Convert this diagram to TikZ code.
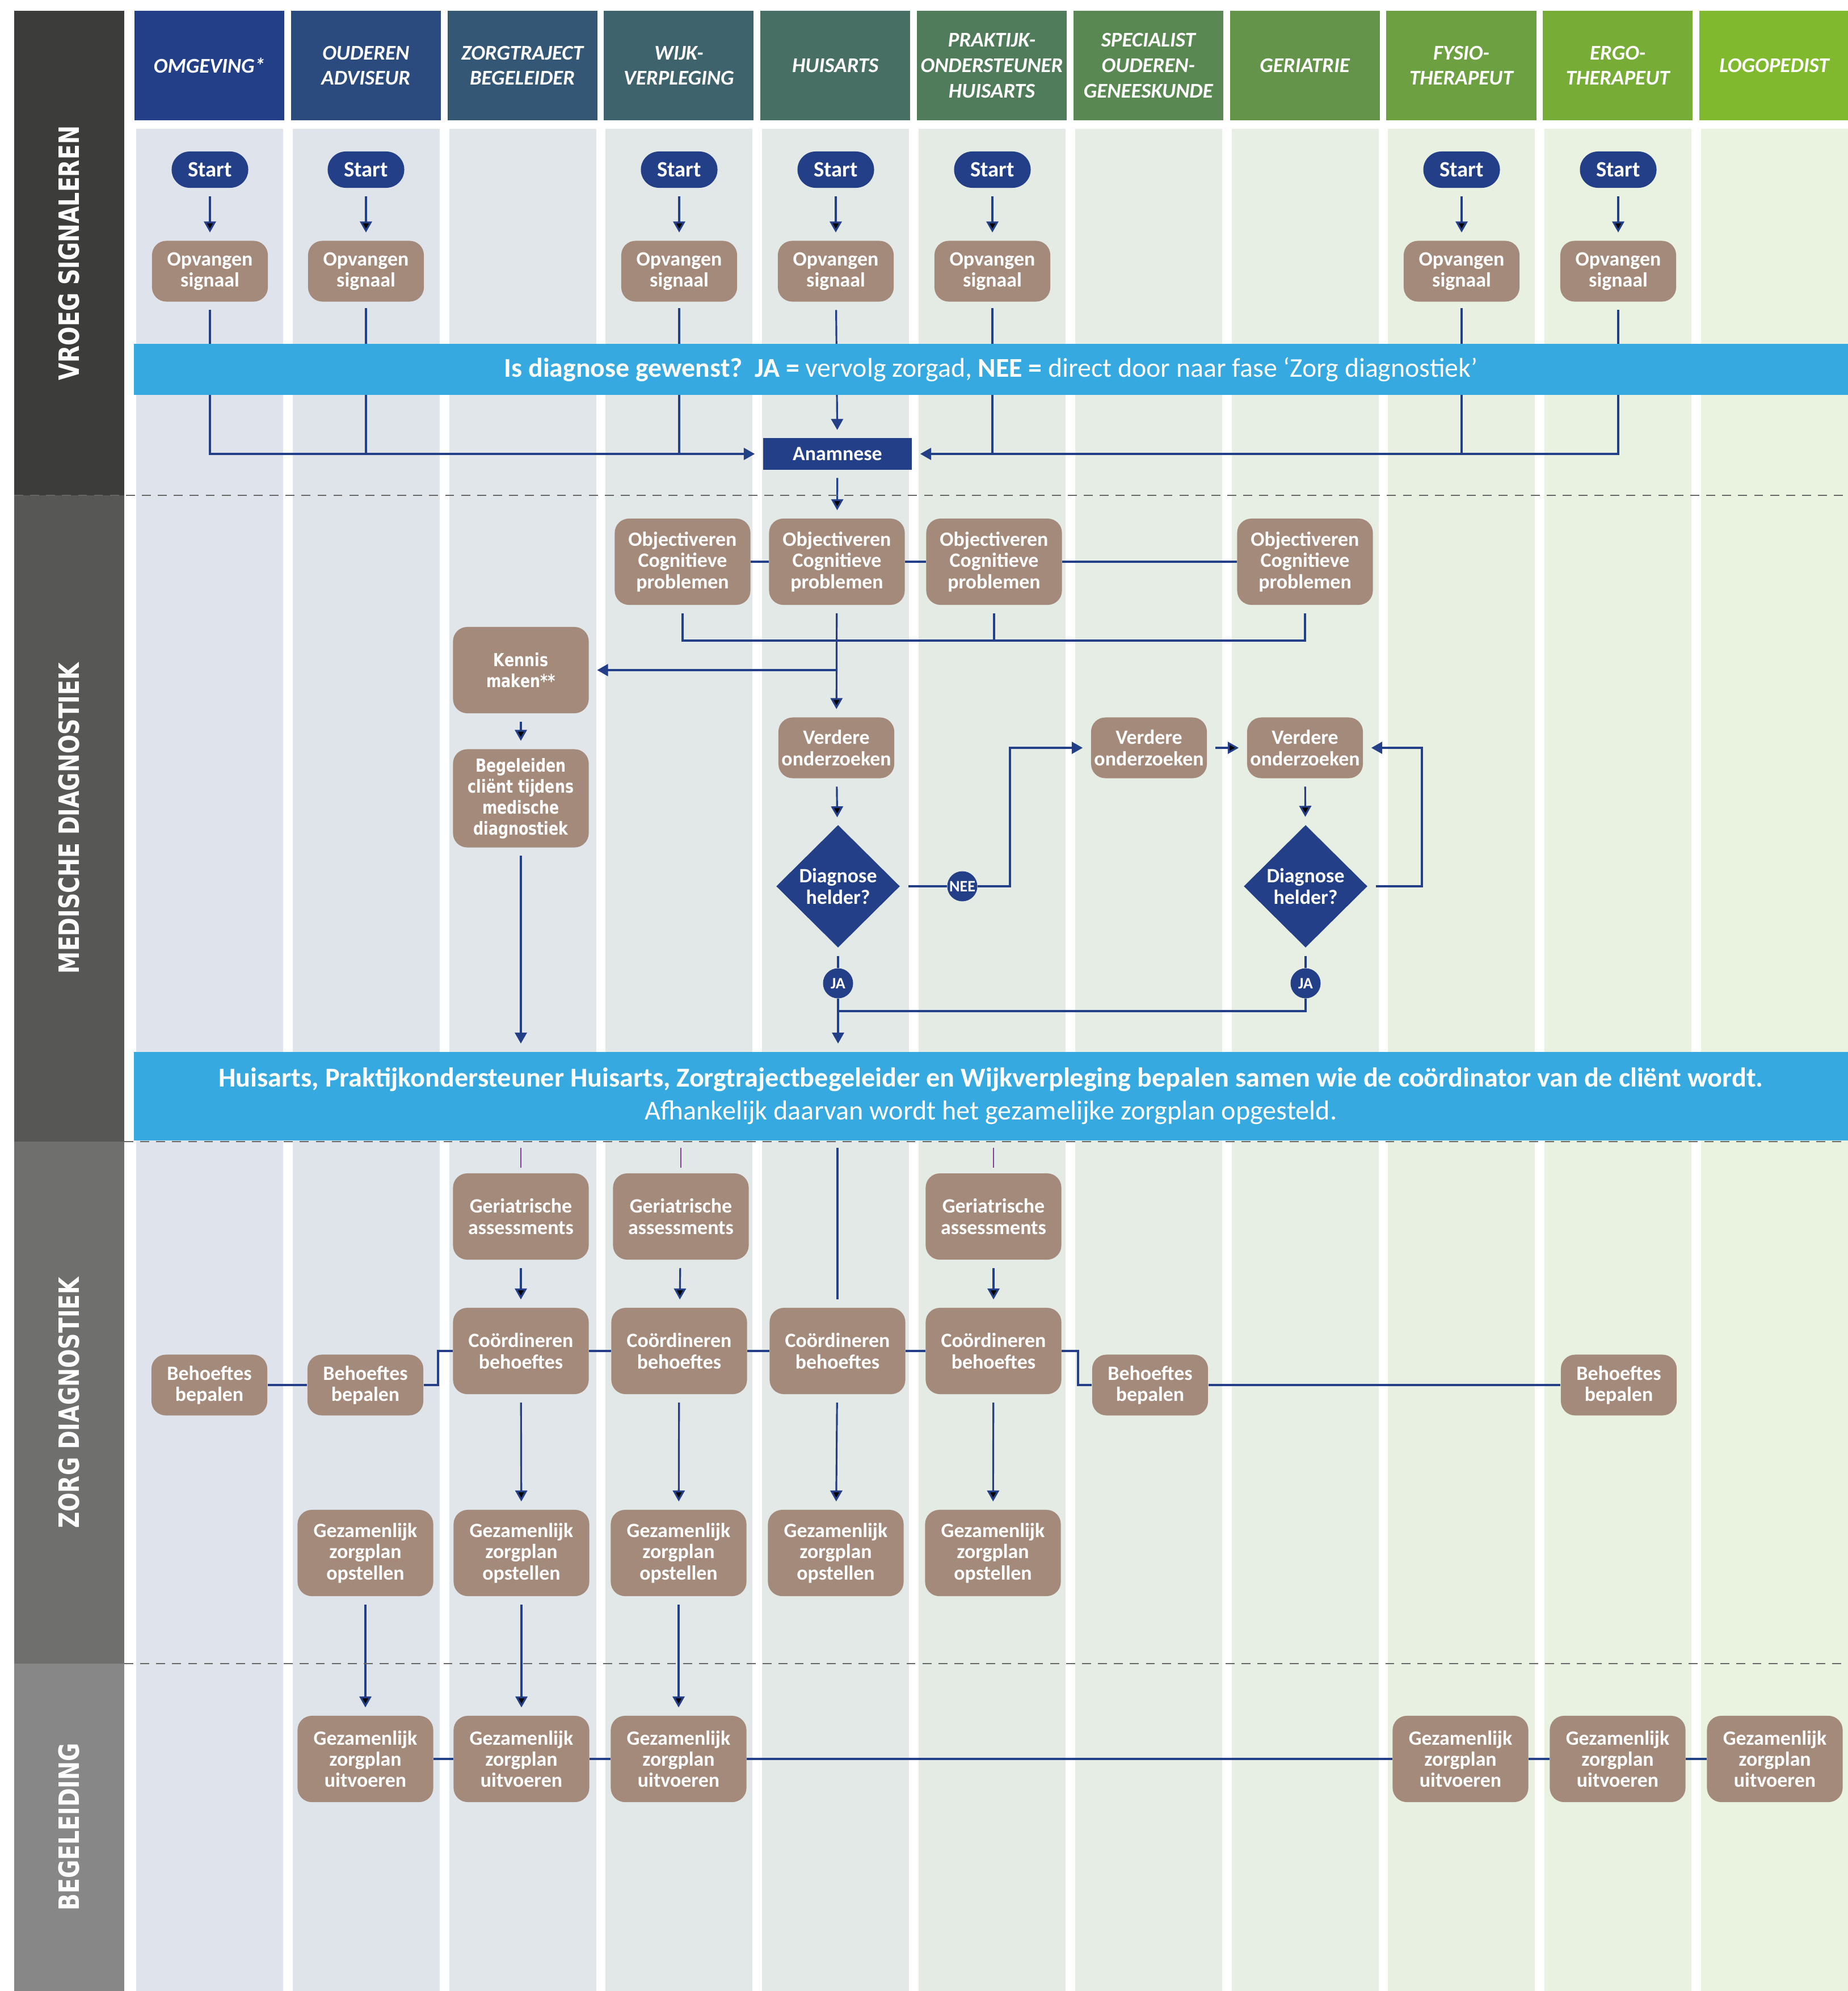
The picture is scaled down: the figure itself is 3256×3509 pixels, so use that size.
\documentclass[tikz,border=0pt]{standalone}
\usepackage{fontspec}
\setmainfont{Carlito}
\newfontfamily\widefont[FakeStretch=0.8]{DejaVu Sans}
\usetikzlibrary{shapes.geometric,arrows.meta}
\definecolor{navy}{HTML}{233F87}
\definecolor{taupe}{HTML}{A48A7A}
\definecolor{barblue}{HTML}{36A9E0}
\definecolor{headfirst}{HTML}{223F88}
\definecolor{headlast}{HTML}{80B82E}
\definecolor{lanefirst}{HTML}{DEE3EC}
\definecolor{lanelast}{HTML}{EAF3DF}
\definecolor{phaseA}{HTML}{3C3C3B}
\definecolor{phaseB}{HTML}{575756}
\definecolor{phaseC}{HTML}{6F6F6E}
\definecolor{phaseD}{HTML}{878787}
\definecolor{stub}{HTML}{7D3F98}
\begin{document}
\begin{tikzpicture}[x=0.01cm, y=-0.01cm,
		every node/.style = {text=white, inner sep=0pt},
		head/.style = {minimum width=2.64cm, minimum height=1.93cm, align=center, font=\fontsize{10.5}{12.7}\selectfont\bfseries\itshape},
		phase/.style = {rotate=90, font=\widefont\bfseries\fontsize{14}{16}\selectfont},
		startpill/.style = {fill=navy, rounded corners=0.32cm, minimum width=1.35cm, minimum height=0.64cm, font=\fontsize{11}{12}\selectfont\bfseries},
		main/.style = {fill=taupe, rounded corners=0.25cm, minimum width=2.04cm, minimum height=1.07cm, align=center, font=\fontsize{10.2}{10.6}\selectfont\bfseries},
		mainbig/.style = {main, minimum width=2.39cm, minimum height=1.52cm},
		wide/.style = {mainbig, font=\widefont\bfseries\fontsize{9}{10.5}\selectfont},
		question/.style = {diamond, fill=navy, minimum width=2.18cm, minimum height=2.16cm, inner sep=-5pt, align=center, font=\fontsize{10.2}{10.6}\selectfont\bfseries},
		answer/.style = {circle, fill=navy, minimum size=0.53cm, font=\fontsize{8}{9}\selectfont\bfseries},
		bar/.style = {fill=barblue, minimum width=30.19cm, align=center},
		wire/.style = {draw=navy, line width=0.9pt},
		flow/.style = {wire, -{Triangle[length=5.5pt, width=6pt]}, shorten <=4pt, shorten >=4pt},
		stubline/.style = {draw=stub, line width=0.8pt, shorten <=3.4pt, shorten >=2.6pt},
		dashline/.style = {draw=black!60, line width=0.8pt, dash pattern=on 4.5pt off 3.5pt}]
	\useasboundingbox (0,0) rectangle (3256,3509);

	\fill[phaseA] (25,19) rectangle (219,873);
	\fill[phaseB] (25,873) rectangle (219,2012);
	\fill[phaseC] (25,2012) rectangle (219,2932);
	\fill[phaseD] (25,2932) rectangle (219,3509);
	\node[phase] (ph1) at (122,446) {VROEG SIGNALEREN};
	\node[phase] (ph2) at (122,1442) {MEDISCHE DIAGNOSTIEK};
	\node[phase] (ph3) at (122,2472) {ZORG DIAGNOSTIEK};
	\node[phase] (ph4) at (122,3220) {BEGELEIDING};

	\foreach \i/\txt in {1/{OMGEVING*}, 2/{OUDEREN\\ADVISEUR}, 3/{ZORGTRAJECT\\BEGELEIDER}, 4/{WIJK-\\VERPLEGING}, 5/{HUISARTS}, 6/{PRAKTIJK-\\ONDERSTEUNER\\HUISARTS}, 7/{SPECIALIST\\OUDEREN-\\GENEESKUNDE}, 8/{GERIATRIE}, 9/{FYSIO-\\THERAPEUT}, 10/{ERGO-\\THERAPEUT}, 11/{LOGOPEDIST}} {
		\pgfmathtruncatemacro\pct{(\i-1)*10}
		\fill[lanelast!\pct!lanefirst] ({240+275.8*(\i-1)},227) rectangle ++(259,3300);
		\node[head, fill=headlast!\pct!headfirst] (h\i) at ({369+275.8*(\i-1)},115.5) {\txt};
	}

	\foreach \c/\x in {1/370, 2/645, 4/1197, 5/1473, 6/1749, 9/2576, 10/2852} {
		\node[startpill] (st\c) at (\x,299) {Start};
		\node[main] (op\c) at (\x,478) {Opvangen\\signaal};
		\path[flow] (st\c) edge (op\c);
	}

	\node[fill=navy, minimum width=2.62cm, minimum height=0.55cm, font=\fontsize{10.2}{12}\selectfont\bfseries] (anam) at (1476,800) {Anamnese};
	\node[mainbig] (ob4) at (1203,990) {Objectiveren\\Cognitieve\\problemen};
	\node[mainbig] (ob5) at (1475,990) {Objectiveren\\Cognitieve\\problemen};
	\node[mainbig] (ob6) at (1752,990) {Objectiveren\\Cognitieve\\problemen};
	\node[mainbig] (ob8) at (2300,990) {Objectiveren\\Cognitieve\\problemen};
	\node[wide] (kennis) at (918,1181) {Kennis\\maken**};
	\node[wide, minimum height=1.73cm] (begel) at (918,1407) {Begeleiden\\cliënt tijdens\\medische\\diagnostiek};
	\node[main] (vo5) at (1474,1318) {Verdere\\onderzoeken};
	\node[main] (vo7) at (2025,1318) {Verdere\\onderzoeken};
	\node[main] (vo8) at (2300,1318) {Verdere\\onderzoeken};
	\node[question] (dh5) at (1477,1562) {Diagnose\\helder?};
	\node[question] (dh8) at (2301,1562) {Diagnose\\helder?};
	\node[answer] (nee) at (1696,1562) {NEE};
	\node[answer] (ja5) at (1477,1733) {JA};
	\node[answer] (ja8) at (2301,1733) {JA};

	\node[bar, minimum height=1.56cm, font=\fontsize{13.7}{16.5}\selectfont] (overleg) at (1746.5,1932) {{\bfseries Huisarts, Praktijkondersteuner Huisarts, Zorgtrajectbegeleider en Wijkverpleging bepalen samen wie de coördinator van de cliënt wordt.}\\Afhankelijk daarvan wordt het gezamelijke zorgplan opgesteld.};

	\node[mainbig] (ga3) at (918,2144) {Geriatrische\\assessments};
	\node[mainbig] (ga4) at (1200,2144) {Geriatrische\\assessments};
	\node[mainbig] (ga6) at (1751,2144) {Geriatrische\\assessments};
	\node[mainbig] (cb3) at (918,2381) {Coördineren\\behoeftes};
	\node[mainbig] (cb4) at (1197,2381) {Coördineren\\behoeftes};
	\node[mainbig] (cb5) at (1476,2381) {Coördineren\\behoeftes};
	\node[mainbig] (cb6) at (1751,2381) {Coördineren\\behoeftes};
	\node[main] (bb1) at (369,2441) {Behoeftes\\bepalen};
	\node[main] (bb2) at (644,2441) {Behoeftes\\bepalen};
	\node[main] (bb7) at (2027,2441) {Behoeftes\\bepalen};
	\node[main] (bb10) at (2853,2441) {Behoeftes\\bepalen};
	\node[mainbig] (zo2) at (644,2737) {Gezamenlijk\\zorgplan\\opstellen};
	\node[mainbig] (zo3) at (919,2737) {Gezamenlijk\\zorgplan\\opstellen};
	\node[mainbig] (zo4) at (1196,2737) {Gezamenlijk\\zorgplan\\opstellen};
	\node[mainbig] (zo5) at (1473,2737) {Gezamenlijk\\zorgplan\\opstellen};
	\node[mainbig] (zo6) at (1750,2737) {Gezamenlijk\\zorgplan\\opstellen};
	\node[mainbig] (zu2) at (644,3100) {Gezamenlijk\\zorgplan\\uitvoeren};
	\node[mainbig] (zu3) at (919,3100) {Gezamenlijk\\zorgplan\\uitvoeren};
	\node[mainbig] (zu4) at (1196,3100) {Gezamenlijk\\zorgplan\\uitvoeren};
	\node[mainbig] (zu9) at (2574,3100) {Gezamenlijk\\zorgplan\\uitvoeren};
	\node[mainbig] (zu10) at (2851,3100) {Gezamenlijk\\zorgplan\\uitvoeren};
	\node[mainbig] (zu11) at (3128,3100) {Gezamenlijk\\zorgplan\\uitvoeren};

	\coordinate (obmerge) at (1475,1129);
	\coordinate (neebend) at (1780,1562);
	\coordinate (lusbend) at (2506,1562);
	\coordinate (jamerge) at (1477,1782);
	\coordinate (kinkl) at (772,2381);
	\coordinate (kinkr) at (1900,2441);

	\draw[flow] (op1) |- (anam);
	\draw[flow] (op10) |- (anam);
	\draw[flow] (op5) -- (anam);
	\draw[wire, shorten <=3pt] (op2) -- (op2 |- anam);
	\draw[wire, shorten <=3pt] (op4) -- (op4 |- anam);
	\draw[wire, shorten <=3pt] (op6) -- (op6 |- anam);
	\draw[wire, shorten <=3pt] (op9) -- (op9 |- anam);
	\path[flow] (anam) edge (ob5);
	\path[wire] (ob4) edge (ob5) (ob5) edge (ob6) (ob6) edge (ob8);
	\draw[wire, shorten <=4pt] (ob4) |- (obmerge);
	\draw[wire, shorten <=4pt] (ob8) |- (obmerge);
	\draw[wire, shorten <=4pt] (ob6) -- (ob6 |- obmerge);
	\path[flow] (ob5) edge (vo5);
	\draw[flow, shorten <=0pt] (ob5 |- kennis) -- (kennis);
	\path[flow] (kennis) edge (begel);
	\draw[flow] (begel) -- (begel |- overleg.north);
	\path[flow] (vo5) edge (dh5);
	\draw[wire, shorten <=4pt] (dh5) -- (nee);
	\draw[flow, shorten <=0pt] (nee) -- (neebend) |- (vo7);
	\path[flow] (vo7) edge (vo8) (vo8) edge (dh8);
	\draw[flow] (dh8) -- (lusbend) |- (vo8);
	\draw[wire, shorten <=4pt] (dh5) -- (ja5);
	\draw[wire, shorten <=4pt] (dh8) -- (ja8);
	\draw[wire] (ja8) |- (jamerge);
	\draw[flow, shorten <=0pt] (ja5) -- (ja5 |- overleg.north);

	\draw[stubline] (overleg.south -| ga3) -- (ga3);
	\draw[stubline] (overleg.south -| ga4) -- (ga4);
	\draw[stubline] (overleg.south -| ga6) -- (ga6);
	\draw[wire, shorten <=3.4pt, shorten >=4pt] (overleg.south -| cb5) -- (cb5);
	\path[flow] (ga3) edge (cb3) (ga4) edge (cb4) (ga6) edge (cb6);
	\path[wire] (bb1) edge (bb2) (cb3) edge (cb4) (cb4) edge (cb5) (cb5) edge (cb6) (bb7) edge (bb10);
	\draw[wire] (bb2) -| (kinkl) -- (cb3);
	\draw[wire] (cb6) -| (kinkr) -- (bb7);
	\path[flow] (cb3) edge (zo3) (cb4) edge (zo4) (cb5) edge (zo5) (cb6) edge (zo6);
	\path[flow] (zo2) edge (zu2) (zo3) edge (zu3) (zo4) edge (zu4);
	\path[wire] (zu2) edge (zu3) (zu3) edge (zu4) (zu4) edge (zu9) (zu9) edge (zu10) (zu10) edge (zu11);

	\node[bar, minimum height=0.9cm, font=\fontsize{13.6}{15}\selectfont] (vraag) at (1746.5,651) {{\bfseries Is diagnose gewenst?\ \ JA =} vervolg zorgad, {\bfseries NEE =} direct door naar fase ‘Zorg diagnostiek’};

	\draw[dashline] (25,873) -- (3256,873);
	\draw[dashline] (219,2012) -- (3256,2012);
	\draw[dashline] (219,2932) -- (3256,2932);
\end{tikzpicture}
\end{document}
